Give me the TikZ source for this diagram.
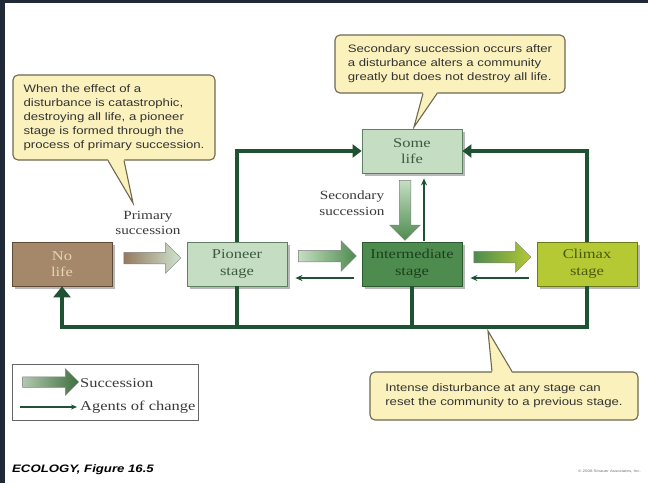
\documentclass[tikz,border=0pt]{standalone}
\usepackage{fontspec}
\setmainfont{Liberation Serif}[FakeStretch=1.22]
\newfontfamily\callfont{Liberation Sans}[FakeStretch=1.22]
\usetikzlibrary{shapes.arrows,calc,shadows,arrows.meta}
\definecolor{bgdark}{HTML}{1F2A36}
\definecolor{dkgreen}{HTML}{1F5232}
\definecolor{nolifefill}{HTML}{A5886A}
\definecolor{nolifeline}{HTML}{5E4A36}
\definecolor{nolifetext}{HTML}{E6D3B5}
\definecolor{pionfill}{HTML}{C5DEC3}
\definecolor{pionline}{HTML}{5F7F62}
\definecolor{piontext}{HTML}{3B5A3F}
\definecolor{interfill}{HTML}{4E8B4E}
\definecolor{interline}{HTML}{2C5A2E}
\definecolor{intertext}{HTML}{1B3F1D}
\definecolor{climfill}{HTML}{B5C934}
\definecolor{climline}{HTML}{6D7A1A}
\definecolor{climtext}{HTML}{4A5A10}
\definecolor{calfill}{HTML}{FBF1BD}
\definecolor{calline}{HTML}{6E6850}
\definecolor{caltext}{HTML}{333333}
\definecolor{labgray}{HTML}{3A3A3A}
\definecolor{legline}{HTML}{666666}
\begin{document}
\begin{tikzpicture}[x=1pt,y=-1pt,
  stage/.style={rectangle, minimum width=100pt, minimum height=44pt, inner sep=0pt, align=center, line width=0.8pt,
    font=\fontsize{13.5}{16.5}\selectfont,
    drop shadow={shadow xshift=2.5pt,shadow yshift=-2.5pt,fill=black,opacity=0.28}},
  succarrow/.style={single arrow, draw=black!50, line width=0.5pt, inner sep=5.5pt,
    single arrow head extend=9.5pt, minimum height=#1},
  agent/.style={draw=dkgreen, line width=1.5pt, -{Stealth[length=7pt,width=6pt]}},
  reset/.style={draw=dkgreen, line width=4.8pt},
  callout/.style={draw=calline, fill=calfill, line width=1.1pt, rounded corners=5pt, align=left, text=caltext,
    inner sep=0pt, font=\callfont\fontsize{10.8}{14}\selectfont},
  tail/.style={draw=calline, line width=1.1pt, line join=miter},
  lab/.style={align=center, text=labgray, font=\fontsize{12.5}{15.5}\selectfont}
]
\fill[bgdark] (0,0) rectangle (648,483);
\fill[white] (5,3) rectangle (648,483);
\useasboundingbox (0,0) rectangle (648,483);

% stages
\node[stage, fill=nolifefill, draw=nolifeline, text=nolifetext] (nolife) at (62,264) {No\\life};
\node[stage, fill=pionfill, draw=pionline, text=piontext] (pioneer) at (237,264) {Pioneer\\stage};
\node[stage, fill=interfill, draw=interline, text=intertext] (inter) at (412,264) {Intermediate\\stage};
\node[stage, fill=climfill, draw=climline, text=climtext] (climax) at (587,264) {Climax\\stage};
\node[stage, fill=pionfill, draw=pionline, text=piontext] (somelife) at (412,151) {Some\\life};

% reset / disturbance lines
\coordinate (bot) at (0,327);
\draw[reset, -{Triangle[width=13pt,length=9pt]}] (pioneer.north) |- (somelife.west);
\draw[reset, -{Triangle[width=13pt,length=9pt]}] (climax.north) |- (somelife.east);
\draw[reset, -{Triangle[width=17pt,length=11pt]}] (climax.south) |- (bot -| nolife.south) -- (nolife.south);
\draw[reset] (pioneer.south) -- (pioneer.south |- bot);
\draw[reset] (inter.south) -- (inter.south |- bot);

% succession block arrows
\node[succarrow=57pt, left color=nolifefill!90!black, right color=pionfill!80!white] (s1)
  at ($(nolife.east)!0.5!(pioneer.west)+(0,-6)$) {};
\node[succarrow=58pt, left color=pionfill, right color=interfill] (s2)
  at ($(pioneer.east)!0.5!(inter.west)+(0,-8)$) {};
\node[succarrow=57pt, left color=interfill, right color=climfill] (s3)
  at ($(inter.east)!0.5!(climax.west)+(0,-7)$) {};
\node[succarrow=60pt, shape border rotate=270, top color=pionfill, bottom color=interfill] (s4)
  at ($(somelife.south)!0.5!(inter.north)+(-7,0)$) {};

% agents of change
\draw[agent] ($(inter.west)+(-8,14)$) -- ($(pioneer.east)+(8,14)$);
\draw[agent] ($(climax.west)+(-8,14)$) -- ($(inter.east)+(8,14)$);
\draw[agent] ($(inter.north)+(12,-1)$) -- ($(somelife.south)+(12,5)$);

% labels
\node[lab] (prim) at (148,223) {Primary\\succession};
\node[lab] (sec) at (352,203) {Secondary\\succession};

% callouts
\node[callout, minimum width=202pt, minimum height=85pt] (c1) at (114,117.5)
  {When the effect of a\\disturbance is catastrophic,\\destroying all life, a pioneer\\stage is formed through the\\process of primary succession.};
\coordinate (t1) at (133,203);
\fill[calfill] ($(c1.south)+(-6,-1.5)$) -- (t1) -- ($(c1.south)+(10,-1.5)$) -- cycle;
\draw[tail] ($(c1.south)+(-6,0)$) -- (t1) -- ($(c1.south)+(10,0)$);

\node[callout, minimum width=230pt, minimum height=58pt] (c2) at (450,64)
  {Secondary succession occurs after\\a disturbance alters a community\\greatly but does not destroy all life.};
\coordinate (t2) at (414,127);
\fill[calfill] ($(c2.south)+(-27,-1.5)$) -- (t2) -- ($(c2.south)+(-13,-1.5)$) -- cycle;
\draw[tail] ($(c2.south)+(-27,0)$) -- (t2) -- ($(c2.south)+(-13,0)$);

\node[callout, minimum width=268pt, minimum height=48pt] (c3) at (504,396)
  {Intense disturbance at any stage can\\reset the community to a previous stage.};
\coordinate (t3) at (488,331);
\fill[calfill] ($(c3.north)+(-12,1.5)$) -- (t3) -- ($(c3.north)+(8,1.5)$) -- cycle;
\draw[tail] ($(c3.north)+(-12,0)$) -- (t3) -- ($(c3.north)+(8,0)$);

% legend
\node[draw=legline, line width=1pt, minimum width=186pt, minimum height=56pt, inner sep=0pt] (legend) at (105,392) {};
\node[succarrow=56pt, inner sep=5pt, single arrow head extend=8pt, left color=pionfill!90!black, right color=interfill!80!black] (ls) at (48,382) {};
\coordinate (la1) at (20,407);
\coordinate (la2) at (77,407);
\draw[draw=dkgreen, line width=1.2pt, -{Stealth[length=6pt,width=5pt]}] (la1) -- (la2);
\node[anchor=west, inner sep=0pt, text=labgray, font=\fontsize{13.5}{15}\selectfont] (lt1) at (80,383) {Succession};
\node[anchor=west, inner sep=0pt, text=labgray, font=\fontsize{13.5}{15}\selectfont] (lt2) at (80,407) {Agents of change};

% footer
\node[anchor=west, inner sep=0pt, font=\callfont\fontsize{10.8}{12}\selectfont\bfseries\itshape] (foot) at (12,470) {ECOLOGY, Figure 16.5};
\node[anchor=east, inner sep=0pt, text=black!55, font=\callfont\fontsize{3.6}{4}\selectfont] (copy) at (641,471) {\textcopyright\ 2008 Sinauer Associates, Inc.};
\end{tikzpicture}
\end{document}
